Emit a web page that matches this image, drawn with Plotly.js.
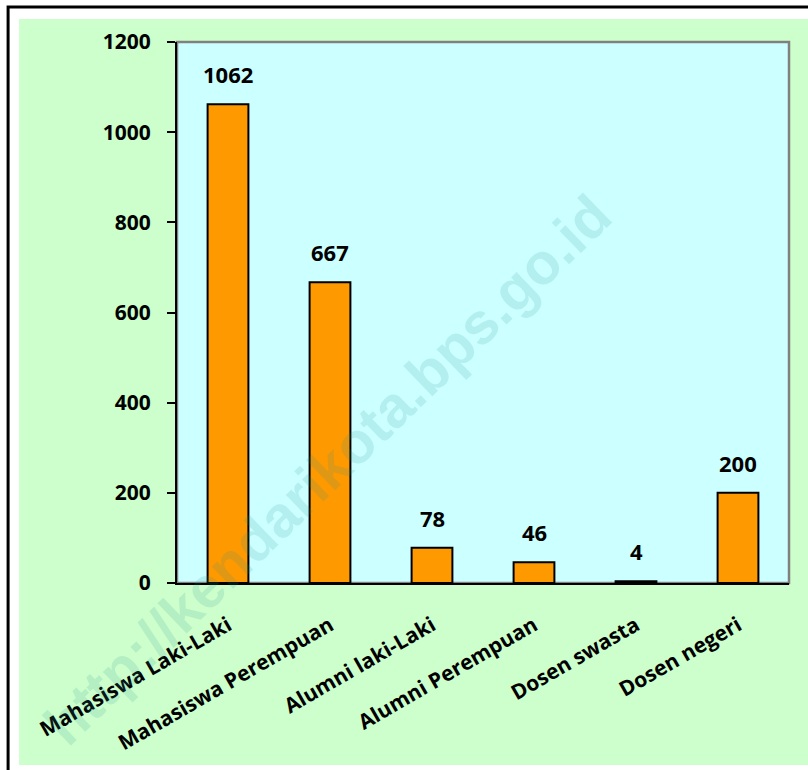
<!DOCTYPE html>
<html>
<head>
<meta charset="utf-8">
<script src="https://cdn.plot.ly/plotly-3.0.1.min.js"></script>
<style>
html,body{margin:0;padding:0;background:#fff;}
#chart{width:808px;height:770px;}
</style>
</head>
<body>
<div id="chart"></div>
<script>
// Data
const categories = ["Mahasiswa Laki-Laki", "Mahasiswa Perempuan", "Alumni laki-Laki", "Alumni Perempuan", "Dosen swasta", "Dosen negeri"];
const values = [1062, 667, 78, 46, 4, 200];
const yTicks = [0, 200, 400, 600, 800, 1000, 1200];
const watermark = "http://kendarikota.bps.go.id";

const FONT = "'Open Sans', 'Noto Sans', sans-serif";

const trace = {
  type: "bar",
  x: categories,
  y: values,
  width: 0.4,
  marker: {color: "#ff9900", line: {color: "#000000", width: 2}},
  hoverinfo: "skip"
};

const labelAnns = categories.map((c, i) => ({
  x: c, y: values[i], xref: "x", yref: "y",
  text: String(values[i]), showarrow: false,
  yanchor: "bottom", yshift: 13,
  font: {family: FONT, size: 22, color: "#000", weight: "bold"}
}));

const wmAnn = {
  xref: "paper", yref: "paper", x: 0.245, y: 0.21,
  xanchor: "center", yanchor: "middle",
  text: watermark, showarrow: false, textangle: -44,
  font: {family: "'Liberation Sans', Arial, sans-serif", size: 58, color: "rgba(40,150,150,0.15)", weight: "bold"}
};

const layout = {
  width: 808, height: 770,
  margin: {l: 177, r: 19, t: 42, b: 187},
  paper_bgcolor: "#ffffff",
  plot_bgcolor: "rgba(0,0,0,0)",
  showlegend: false,
  xaxis: {
    type: "category",
    range: [-0.5, 5.5],
    showline: true, linecolor: "#000", linewidth: 2,
    ticks: "", showgrid: false, zeroline: false,
    tickangle: -30,
    ticklabelstandoff: 20,
    tickfont: {family: FONT, size: 21, color: "#000", weight: "bold"},
    fixedrange: true
  },
  xaxis2: {
    overlaying: "x", anchor: "y", side: "bottom",
    range: [-0.5, 5.5], tickmode: "linear", tick0: -0.5, dtick: 0.5,
    ticks: "outside", ticklen: 7, tickwidth: 2, tickcolor: "#000",
    showticklabels: false, showline: false, showgrid: false, zeroline: false,
    fixedrange: true
  },
  yaxis: {
    range: [0, 1200], tickvals: yTicks, ticktext: yTicks.map(String),
    ticks: "outside", ticklen: 8, tickwidth: 2, tickcolor: "#000",
    showline: true, linecolor: "#000", linewidth: 2,
    showgrid: false, zeroline: false,
    ticklabelstandoff: 12,
    tickfont: {family: FONT, size: 21, color: "#000", weight: "bold"},
    fixedrange: true
  },
  shapes: [
    {type: "rect", xref: "paper", yref: "paper", x0: -0.258, x1: 1.04, y0: -0.3364, y1: 1.0425,
     fillcolor: "#ccffcc", line: {width: 0}, layer: "below"},
    {type: "rect", xref: "paper", yref: "paper", x0: -0.276, x1: 1.1, y0: -0.4, y1: 1.0647,
     fillcolor: "rgba(0,0,0,0)", line: {color: "#000", width: 3}, layer: "below"},
    {type: "rect", xref: "paper", yref: "paper", x0: 0, x1: 1, y0: 0, y1: 1,
     fillcolor: "#ccffff", line: {color: "#808080", width: 2.5}, layer: "below"}
  ],
  annotations: labelAnns.concat([wmAnn])
};

Plotly.newPlot("chart", [trace], layout, {displayModeBar: false, staticPlot: true});
</script>
</body>
</html>
